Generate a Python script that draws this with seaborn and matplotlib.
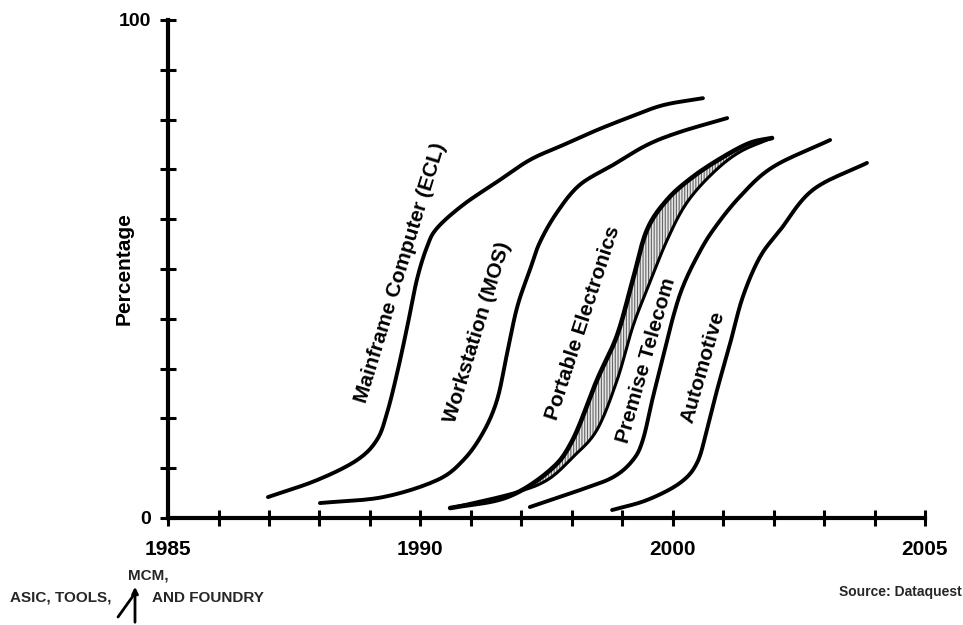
import numpy as np
import matplotlib
matplotlib.use("Agg")
import matplotlib.pyplot as plt
import seaborn as sns

# Horizontal axis runs in tick steps; only four steps carry a year label
tick_positions = list(range(16))
year_labels = {0: "1985", 5: "1990", 10: "2000", 15: "2005"}
y_ticks = list(range(0, 101, 10))

# Adoption curves (tick-step position, percentage)
mainframe_x = [1.98, 2.95, 3.74, 4.14, 4.34, 4.54, 4.74, 4.93, 5.13, 5.33, 5.85, 6.52, 7.17, 7.83, 8.50, 9.15, 9.81, 10.60]
mainframe_y = [4.2, 7.6, 11.6, 15.7, 21.1, 29.1, 38.4, 47.8, 54.4, 58.2, 62.9, 67.5, 71.9, 74.9, 77.9, 80.5, 82.9, 84.3]

workstation_x = [3.01, 4.26, 5.33, 5.85, 6.24, 6.52, 6.72, 6.92, 7.17, 7.37, 7.71, 8.16, 8.82, 9.49, 10.14, 11.08]
workstation_y = [3.0, 4.2, 7.6, 11.6, 17.1, 23.7, 33.1, 42.4, 49.8, 55.4, 61.4, 66.9, 70.9, 74.9, 77.5, 80.3]

portable_upper_x = [5.59, 6.72, 7.57, 8.02, 8.50, 8.90, 9.21, 9.49, 9.89, 10.40, 11.00, 11.53, 11.97]
portable_upper_y = [2.0, 4.2, 9.6, 15.7, 27.7, 36.7, 47.8, 57.8, 63.9, 68.5, 72.5, 75.3, 76.3]

portable_lower_x = [5.59, 6.84, 7.51, 8.02, 8.50, 8.90, 9.21, 9.49, 9.89, 10.28, 10.80, 11.33, 11.97]
portable_lower_y = [2.0, 5.0, 7.6, 12.2, 17.7, 27.7, 38.4, 45.8, 55.8, 63.3, 69.3, 73.5, 76.3]

telecom_x = [7.17, 8.16, 8.82, 9.21, 9.41, 9.61, 9.81, 10.01, 10.20, 10.48, 10.80, 11.33, 11.99, 13.12]
telecom_y = [2.2, 5.6, 8.2, 11.6, 15.7, 24.3, 32.3, 40.4, 46.4, 52.4, 57.8, 64.5, 70.5, 75.9]

automotive_x = [8.80, 9.49, 10.14, 10.48, 10.68, 10.88, 11.14, 11.39, 11.73, 12.13, 12.78, 13.85]
automotive_y = [1.6, 3.6, 7.0, 11.0, 17.7, 25.7, 35.1, 44.4, 52.4, 57.8, 65.9, 71.3]

curve_labels = ["Mainframe Computer (ECL)", "Workstation (MOS)", "Portable Electronics",
                "Premise Telecom", "Automotive"]
label_x = [4.60, 6.14, 8.22, 9.47, 10.60]
label_y = [49.2, 37.3, 39.2, 31.7, 30.3]
label_angle = [73, 73, 72, 74, 74]


def smooth(xs, ys, steps=12):
    """Catmull-Rom path through the given points, for a hand-drawn look."""
    p = np.column_stack([xs, ys]).astype(float)
    p = np.vstack([2 * p[0] - p[1], p, 2 * p[-1] - p[-2]])
    t = np.linspace(0, 1, steps, endpoint=False)[:, None]
    out = []
    for i in range(1, len(p) - 2):
        p0, p1, p2, p3 = p[i - 1], p[i], p[i + 1], p[i + 2]
        seg = 0.5 * ((2 * p1) + (-p0 + p2) * t + (2 * p0 - 5 * p1 + 4 * p2 - p3) * t ** 2
                     + (-p0 + 3 * p1 - 3 * p2 + p3) * t ** 3)
        out.append(seg)
    out.append(p[-2][None, :])
    out = np.vstack(out)
    return out[:, 0], out[:, 1]


sns.set_theme(style="white")
plt.rcParams["font.family"] = ["Liberation Sans", "DejaVu Sans"]
plt.rcParams["hatch.linewidth"] = 0.8
plt.rcParams["hatch.color"] = "#666666"

fig = plt.figure(figsize=(9.63, 6.25), dpi=100)
ax = fig.add_axes([0.1745, 0.1712, 0.786, 0.7968])

# Shaded band for portable electronics
ux, uy = smooth(portable_upper_x, portable_upper_y)
lx, ly = smooth(portable_lower_x, portable_lower_y)
ax.fill(np.concatenate([ux, lx[::-1]]), np.concatenate([uy, ly[::-1]]),
        facecolor="#e6e6e6", edgecolor="#666666", hatch="||||||", linewidth=0, zorder=1)

line_kw = dict(color="black", sort=False, estimator=None, ax=ax,
               solid_capstyle="round", solid_joinstyle="round", zorder=3)
for xs, ys, lw in [(mainframe_x, mainframe_y, 2.8),
                   (workstation_x, workstation_y, 2.8),
                   (portable_upper_x, portable_upper_y, 3.3),
                   (portable_lower_x, portable_lower_y, 2.2),
                   (telecom_x, telecom_y, 2.8),
                   (automotive_x, automotive_y, 2.8)]:
    sx, sy = smooth(xs, ys)
    sns.lineplot(x=sx, y=sy, linewidth=lw, **line_kw)

for txt, tx, ty, ang in zip(curve_labels, label_x, label_y, label_angle):
    ax.text(tx, ty, txt, rotation=ang, rotation_mode="anchor", ha="center",
            va="center", fontsize=15, fontweight="bold", color="black")

ax.set_xlim(0, 15)
ax.set_ylim(0, 100)
for side in ("top", "right"):
    ax.spines[side].set_visible(False)
for side in ("left", "bottom"):
    ax.spines[side].set_linewidth(3)
    ax.spines[side].set_color("black")

ax.set_xticks(tick_positions)
ax.set_xticklabels([year_labels.get(p, "") for p in tick_positions])
ax.set_yticks(y_ticks)
ax.set_yticklabels(["100" if v == 100 else ("0" if v == 0 else "") for v in y_ticks])
ax.tick_params(axis="both", direction="inout", length=11, width=2.2, color="black",
               labelcolor="black", bottom=True, left=True)
ax.tick_params(axis="x", pad=10, labelsize=15)
ax.tick_params(axis="y", pad=7, labelsize=14)
for lab in ax.get_xticklabels() + ax.get_yticklabels():
    lab.set_fontweight("bold")

ax.set_xlabel("")
ax.set_ylabel("Percentage", fontsize=15, fontweight="bold", color="black")
ax.yaxis.set_label_coords(-0.045, 0.5)
ax.grid(False)

# Footnotes below the axis
W, H = 963, 625
fig.text(10 / W, 1 - 598 / H, "ASIC, TOOLS,", fontsize=11, fontweight="bold",
         ha="left", va="center")
fig.text(128 / W, 1 - 576 / H, "MCM,", fontsize=11, fontweight="bold",
         ha="left", va="center")
fig.text(152 / W, 1 - 598 / H, "AND FOUNDRY", fontsize=11, fontweight="bold",
         ha="left", va="center")
fig.add_artist(plt.Line2D([118 / W, 133 / W], [1 - 617 / H, 1 - 596 / H],
                          transform=fig.transFigure, color="black", lw=2))
fig.add_artist(matplotlib.patches.FancyArrowPatch(
    (135 / W, 1 - 625 / H), (135 / W, 1 - 584 / H), transform=fig.transFigure,
    arrowstyle="-|>", mutation_scale=9, color="black", lw=2))
fig.text(962 / W, 1 - 592 / H, "Source: Dataquest", fontsize=10, fontweight="bold",
         ha="right", va="center")

fig.savefig("out.png", dpi=100)
